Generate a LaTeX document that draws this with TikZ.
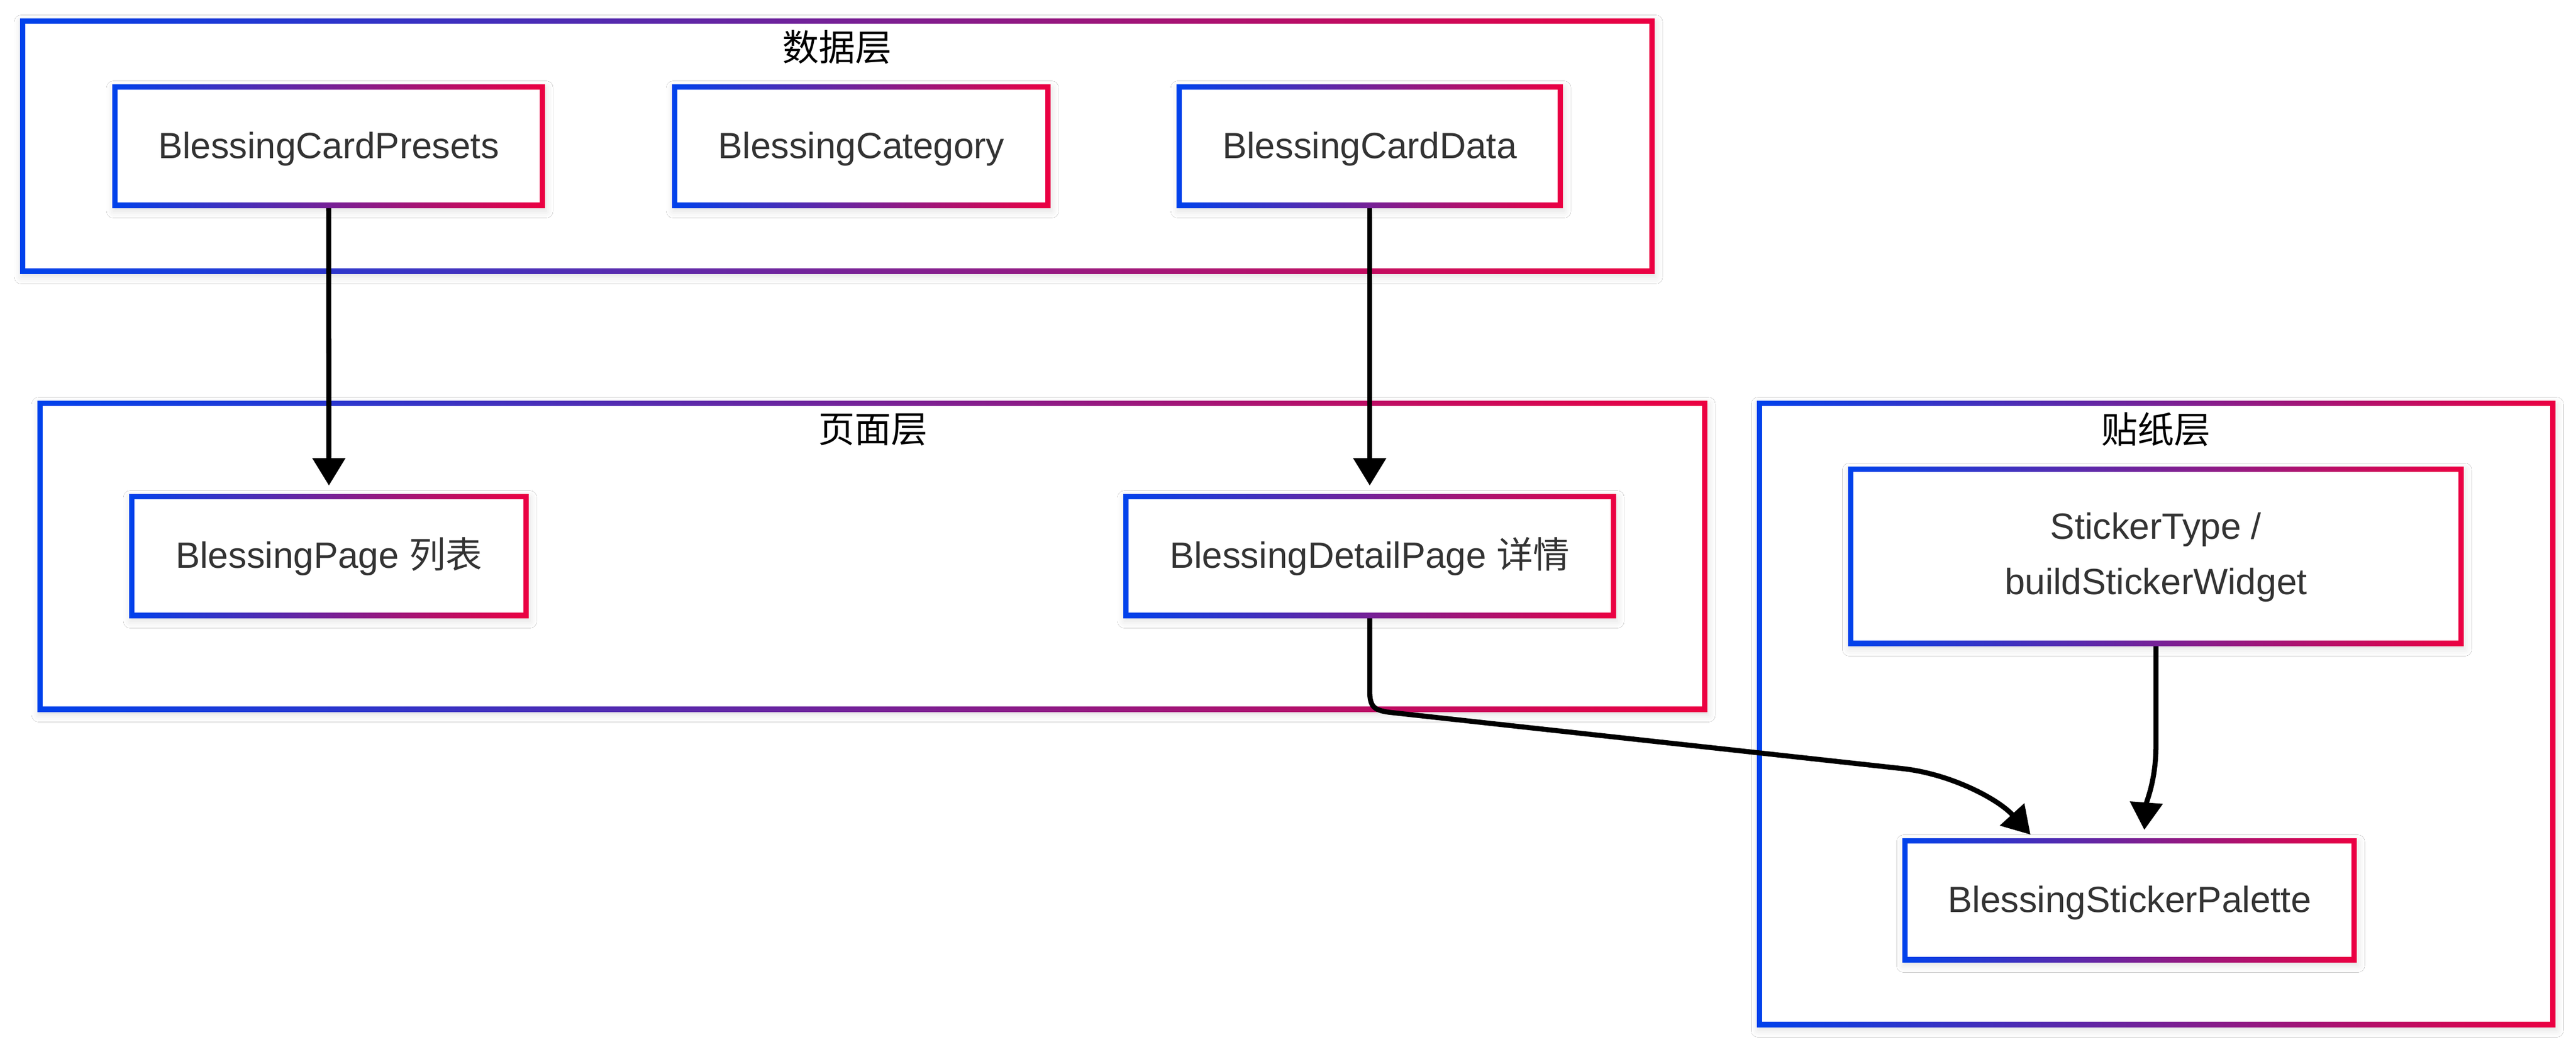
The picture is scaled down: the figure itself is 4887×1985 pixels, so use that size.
\documentclass[tikz,border=0pt]{standalone}
\usepackage{fontspec}
\setmainfont{Liberation Sans}
\newfontfamily\cjk{Noto Sans CJK SC}
\usetikzlibrary{arrows.meta,shadows.blur,calc}
\definecolor{gblue}{RGB}{0,66,236}
\definecolor{gred}{RGB}{236,0,66}
\definecolor{txt}{RGB}{51,51,51}
\begin{document}
\begin{tikzpicture}[x=0.23095pt,y=-0.23095pt,
  gbox/.style={rectangle, inner sep=0pt, left color=gblue, right color=gred,
    blur shadow={shadow xshift=0.5pt, shadow yshift=-1.5pt, shadow blur radius=3pt, shadow opacity=12},
    path picture={\fill[white] ([shift={(2.31pt,2.31pt)}]path picture bounding box.south west) rectangle ([shift={(-2.31pt,-2.31pt)}]path picture bounding box.north east);},
    font=\fontsize{16}{24.2}\selectfont, text=txt},
  oneline/.style={text height=14.4pt, text depth=3.73pt},
  sz/.style 2 args={minimum width=#1*0.23095pt, minimum height=#2*0.23095pt},
  ctitle/.style={font=\cjk\fontsize{16}{20}\selectfont, text=black, inner sep=0pt},
  conn/.style={draw=black, line width=2.2pt, -{Triangle[width=14pt,length=12pt]}}]
\useasboundingbox (0,0) rectangle (4887,1985);
\fill[white] (0,0) rectangle (4887,1985);
% clusters
\node[gbox, sz={3101}{484}] (cD) at (1588.5,277) {};
\node[gbox, sz={3168}{590}] (cP) at (1655,1055) {};
\node[gbox, sz={1515}{1188}] (cS) at (4090.5,1354) {};
\node[ctitle] (tD) at (1588,89) {数据层};
\node[ctitle] (tP) at (1656,815) {页面层};
\node[ctitle] (tS) at (4090,814) {贴纸层};
% nodes
\node[gbox, oneline, sz={821}{234}] (presets) at (623.5,277) {BlessingCardPresets};
\node[gbox, oneline, sz={718}{234}] (category) at (1634,277) {BlessingCategory};
\node[gbox, oneline, sz={733}{234}] (carddata) at (2598.5,277) {BlessingCardData};
\node[gbox, oneline, sz={758}{235}] (page) at (624,1054.5) {BlessingPage {\cjk 列表}};
\node[gbox, oneline, sz={935}{235}] (detail) at (2598.5,1054.5) {BlessingDetailPage {\cjk 详情}};
\node[gbox, align=center, sz={1168}{340}] (stype) at (4090,1055) {\rule{0pt}{12.5pt}StickerType /\\buildStickerWidget};
\node[gbox, oneline, sz={862}{235}] (palette) at (4040,1707.5) {BlessingStickerPalette};
% connectors
\coordinate (tipA) at ($(palette.north)+(-188,-6)$);
\coordinate (tipB) at ($(palette.north)+(28,-15)$);
\draw[conn, shorten >=3.5pt] (presets.south) -- (page.north);
\draw[conn, shorten >=3.5pt] (carddata.south) -- (detail.north);
\draw[conn] (detail.south) -- (2598.5,1310) .. controls (2598.5,1340) and (2606,1347) .. (2635,1351)
  -- (3610,1458) .. controls (3700,1468) and (3790,1515) .. (tipA);
\draw[conn] (stype.south) -- (4090,1416) .. controls (4090,1480) and (4072,1520) .. (tipB);
\end{tikzpicture}
\end{document}
